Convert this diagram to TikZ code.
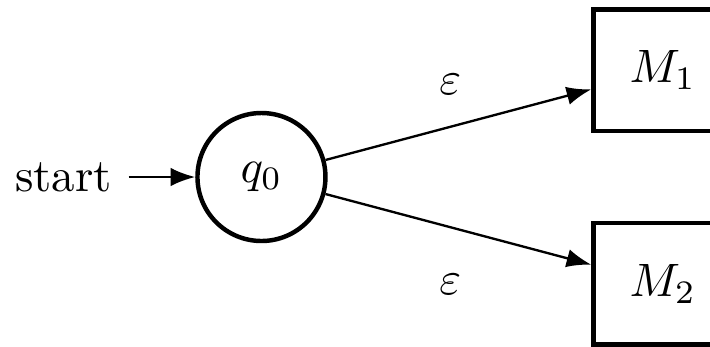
\documentclass[tikz,border=0pt]{standalone}
\usepackage{amsmath,amssymb}
\usetikzlibrary{arrows.meta,positioning}

\begin{document}
\begin{tikzpicture}[
  state/.style={circle,draw=black,line width=0.95pt,minimum size=9.6mm,inner sep=0pt},
  machine/.style={rectangle,draw=black,line width=0.95pt,minimum width=10.4mm,
                  minimum height=9.1mm,inner sep=0pt},
  arr/.style={-{Latex},draw=black,line width=0.5pt},
]
\useasboundingbox (-1.961,-1.2675) rectangle (3.364,1.3275);
\node[state] (q0) at (0,0) {$q_0$};
\node[machine] (m1) at (3.01,0.80) {$M_1$};
\node[machine] (m2) at (3.01,-0.80) {$M_2$};
\node[left=5mm of q0] (start) {start};
\draw[arr] (start) -- (q0);
\draw[arr] (q0) -- node[pos=0.47,above=1.2mm] {$\varepsilon$} (m1);
\draw[arr] (q0) -- node[pos=0.47,below=2.3mm] {$\varepsilon$} (m2);
\end{tikzpicture}
\end{document}
